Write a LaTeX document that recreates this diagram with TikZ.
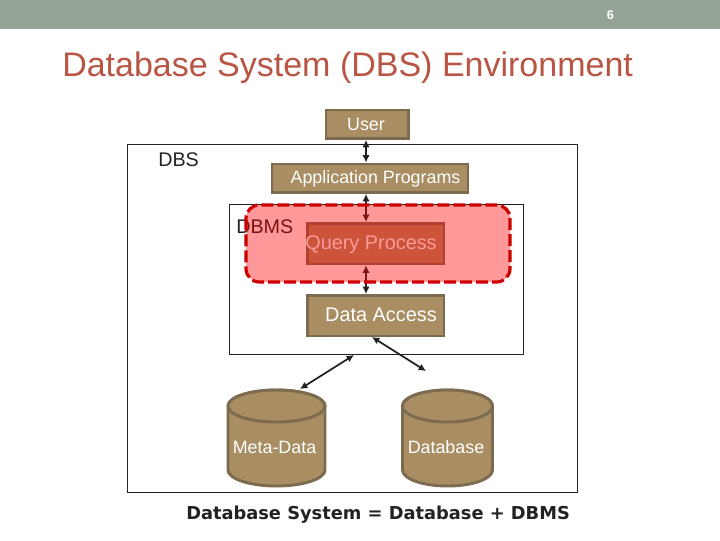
\documentclass[tikz,border=0pt]{standalone}
\usepackage{fontspec}
\setmainfont{Liberation Sans}
\newfontfamily\wideb{DejaVu Sans}
\usetikzlibrary{arrows.meta}
\definecolor{band}{HTML}{95A396}
\definecolor{boxfill}{HTML}{A98D63}
\definecolor{boxline}{HTML}{7D6B50}
\definecolor{ttl}{HTML}{B85545}
\definecolor{ink}{HTML}{222222}
\tikzset{
  x=0.75pt,y=-0.75pt,
  box/.style={draw=boxline,fill=boxfill,line width=2.2pt,minimum height=#1,inner sep=0pt,anchor=north west},
  frame/.style={draw=ink,line width=0.6pt,fill=white},
  lab/.style={text=white,font=\fontsize{13.4}{15}\selectfont,inner sep=0pt},
  big/.style={font=\fontsize{14.9}{17}\selectfont},
  dark/.style={text=ink,inner sep=0pt,font=\fontsize{14.8}{17}\selectfont},
  link/.style={draw=ink,line width=1.3pt,{Latex[length=5.5pt,width=5.5pt]}-{Latex[length=5.5pt,width=5.5pt]}},
  cyl/.style={draw=boxline,fill=boxfill,line width=2.2pt},
}
\newcommand{\cylshape}[4]{% left, right, top, bottom
  \draw[cyl] (#1,#3+16) -- (#1,#4-16) arc[start angle=180,end angle=360,x radius={(#2-#1)/2*0.75pt},y radius=12pt] -- (#2,#3+16) arc[start angle=0,end angle=180,x radius={(#2-#1)/2*0.75pt},y radius=12pt] -- cycle;
  \draw[cyl] (#1,#3+16) arc[start angle=180,end angle=540,x radius={(#2-#1)/2*0.75pt},y radius=12pt];
}
\begin{document}
\begin{tikzpicture}
\useasboundingbox (0,0) rectangle (720,540);
\fill[white] (0,0) rectangle (720,540);
\fill[band] (0,0) rectangle (720,28.5);
\node[text=white,inner sep=0pt,font=\bfseries\fontsize{9.5}{11}\selectfont] (pg) at (610.5,15) {6};
\node[text=ttl,inner sep=0pt,font=\fontsize{25.5}{30}\selectfont,anchor=west] (title) at (62,67.5) {Database System (DBS) Environment};
% frames
\draw[frame] (127,144.5) rectangle (577,492.5);
\draw[frame] (229,204.5) rectangle (523,354.5);
\node[dark,anchor=west] (dbs) at (158,160) {DBS};
\node[dark,anchor=west] (dbms) at (236,226.5) {DBMS};
% boxes
\node[box=28.5*0.75pt,minimum width=82.5*0.75pt] (user) at (324.5,108.5) {};
\node[lab] (usert) at (366,124) {User};
\node[box=28.5*0.75pt,minimum width=196*0.75pt] (app) at (270.5,162.5) {};
\node[lab] (appt) at (375.5,179) {Application Programs};
\node[box=40.5*0.75pt,minimum width=136.5*0.75pt] (query) at (306,222) {};
\node[lab,big] (queryt) at (371,245) {Query Process};
\node[box=40.5*0.75pt,minimum width=136.5*0.75pt] (data) at (306,294) {};
\node[lab,big] (datat) at (381,315) {Data Access};
% arrows
\coordinate (ax) at (366,0);
\draw[link] (user.south -| ax) -- (app.north -| ax);
\draw[link] (app.south -| ax) -- (query.north -| ax);
\draw[link] (query.south -| ax) -- (data.north -| ax);
\coordinate (da) at (372,337);
\coordinate (db) at (426,371);
\coordinate (ma) at (354,355);
\coordinate (mb) at (300,389);
\draw[link] (da) -- (db);
\draw[link] (ma) -- (mb);
% cylinders
\cylshape{228}{325}{390}{486}
\cylshape{402.5}{492.5}{390}{486}
\node[lab] (meta) at (274.5,447) {Meta-Data};
\node[lab] (database) at (446,447) {Database};
\node[inner sep=0pt,text=ink,font=\wideb\bfseries\fontsize{13.36}{15}\selectfont,anchor=west] (eq) at (186,515) {Database System = Database + DBMS};
% overlay
\draw[draw=red!80!black,fill=red,fill opacity=0.4,line width=2.4pt,dash pattern=on 9pt off 3pt,rounded corners=10pt] (246,205) rectangle (510,282);
\end{tikzpicture}
\end{document}
